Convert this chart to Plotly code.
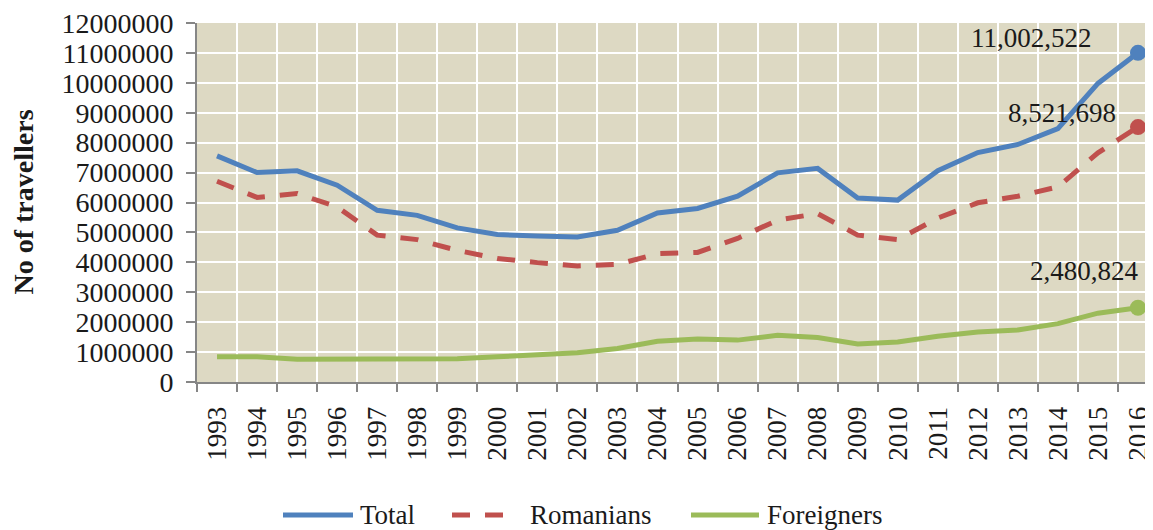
import plotly.graph_objects as go

years = [str(y) for y in range(1993, 2017)]
total = [7560000, 7000000, 7060000, 6580000, 5740000, 5570000, 5150000, 4930000,
         4880000, 4850000, 5070000, 5650000, 5800000, 6210000, 6990000, 7140000,
         6150000, 6080000, 7060000, 7670000, 7940000, 8470000, 9980000, 11002522]
romanians = [6710000, 6170000, 6300000, 5850000, 4910000, 4760000, 4400000, 4130000,
             3990000, 3880000, 3930000, 4290000, 4330000, 4800000, 5410000, 5630000,
             4910000, 4760000, 5480000, 5990000, 6210000, 6520000, 7660000, 8521698]
foreigners = [840000, 840000, 760000, 760000, 800000, 790000, 780000, 840000,
              900000, 980000, 1120000, 1360000, 1440000, 1400000, 1560000, 1490000,
              1270000, 1340000, 1530000, 1670000, 1740000, 1950000, 2300000, 2480824]

names = ["Total", "Romanians", "Foreigners"]
colors = ["#4F81BD", "#C0504D", "#9BBB59"]
dashes = ["solid", "18px,15px", "solid"]
series = [total, romanians, foreigners]
label_shift = [(-106, 15), (-76, 14), (-53, 37)]

# page geometry (the page body has an 8px margin)
OFF = 8
W, H = 1153 - OFF, 530 - OFF
ML, MT, MB = 197 - OFF, 23 - OFF, 148
PW, PH = W - ML, H - MT - MB


def px(xp):
    return (xp - OFF - ML) / PW


def py(yp):
    return (H - MB - (yp - OFF)) / PH


FONT = "Liberation Serif"
TXT = "#1a1a1a"
fig = go.Figure()
for name, col, dsh, vals in zip(names, colors, dashes, series):
    fig.add_trace(go.Scatter(x=years, y=vals, mode="lines", name=name,
                             showlegend=False,
                             line=dict(color=col, width=5, dash=dsh)))
for name, col, vals in zip(names, colors, series):
    fig.add_trace(go.Scatter(x=[years[-1]], y=[vals[-1]], mode="markers",
                             showlegend=False,
                             marker=dict(color=col, size=16)))
last = len(years) - 1
for (dx, dy), vals in zip(label_shift, series):
    fig.add_annotation(x=last, y=vals[-1], text=f"{vals[-1]:,}",
                       showarrow=False, xshift=dx, yshift=dy,
                       font=dict(family=FONT, size=27, color=TXT))

fig.add_annotation(xref="paper", yref="paper", x=px(23), y=0.5,
                   text="<b>No of travellers</b>", textangle=-90, showarrow=False,
                   xanchor="center", yanchor="middle",
                   font=dict(family=FONT, size=28, color=TXT))

# legend (drawn below the chart, as in the original)
leg_y = 515
leg_items = [(283, 353, 358), (452, 515, 528), (691, 759, 765)]
for (x0, x1, tx), name, col, dsh in zip(leg_items, names, colors, dashes):
    fig.add_shape(type="line", xref="paper", yref="paper",
                  x0=px(x0), x1=px(x1), y0=py(leg_y), y1=py(leg_y),
                  line=dict(color=col, width=5, dash=dsh))
    fig.add_annotation(xref="paper", yref="paper", x=px(tx), y=py(leg_y),
                       text=name, showarrow=False, xanchor="left",
                       yanchor="middle",
                       font=dict(family=FONT, size=27, color=TXT))

fig.update_layout(
    width=W, height=H,
    margin=dict(l=ML, r=0, t=MT, b=MB, autoexpand=False),
    paper_bgcolor="white", plot_bgcolor="#DDD9C3",
    font=dict(family=FONT, size=27, color=TXT),
    showlegend=False,
    xaxis=dict(type="category", tickson="boundaries", range=[-0.5, 23.375],
               autorange=False,
               showgrid=True, gridcolor="white", gridwidth=1.5,
               showline=True, linecolor="#868686", linewidth=2,
               ticks="outside", ticklen=8, tickcolor="#868686", tickwidth=1.5,
               tickangle=-90, ticklabelstandoff=12, automargin=False,
               ticklabeloverflow="allow",
               tickfont=dict(family=FONT, size=27)),
    yaxis=dict(range=[0, 12000000], dtick=1000000, tickformat="d",
               autorange=False,
               showgrid=True, gridcolor="white", gridwidth=1.5,
               showline=True, linecolor="#868686", linewidth=2,
               ticks="outside", ticklen=9, tickcolor="#868686", tickwidth=1.5,
               ticklabelstandoff=7, zeroline=False, automargin=False,
               ticklabeloverflow="allow",
               tickfont=dict(family=FONT, size=28)),
)
fig.write_html("out.html")
